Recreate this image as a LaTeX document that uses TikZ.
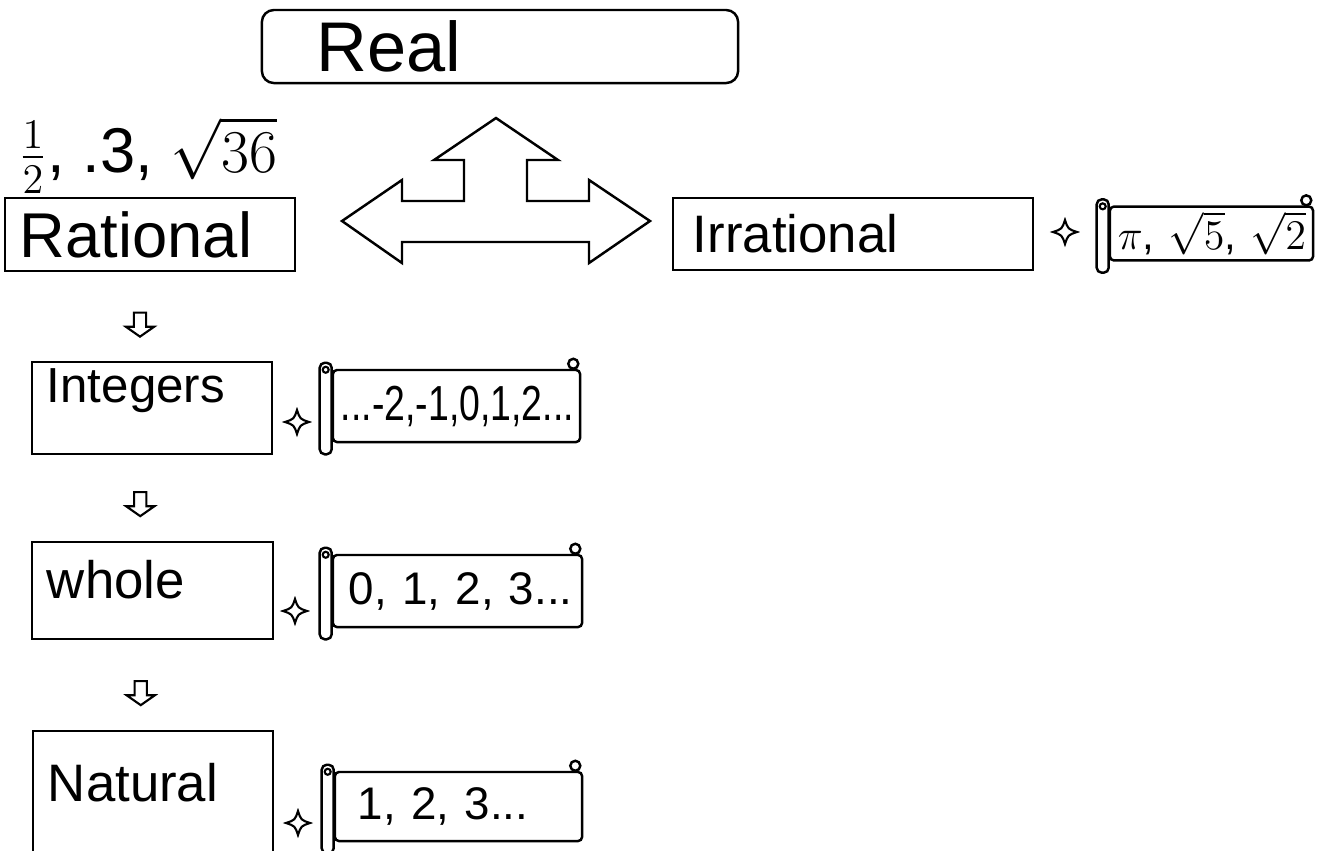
\documentclass[tikz,border=0pt]{standalone}
\usepackage{fontspec}
\setmainfont{Liberation Sans}
\usepackage{amsmath}
\usepackage{graphicx}
\usepackage{tikz}
\usetikzlibrary{shapes.geometric, shapes.arrows, arrows, positioning, calc}

\newcommand{\setfs}[1]{\fontsize{#1}{#1}\selectfont}
% rolled left edge and top curl of a scroll node
\newcommand{\scrollroll}[1]{%
  \draw[line width=0.7pt, fill=white, rounded corners=0.05cm] ([xshift=-0.12cm,yshift=0.06cm]#1.north west) rectangle ([yshift=-0.11cm]#1.south west);
  \draw[line width=0.6pt] ([xshift=-0.06cm,yshift=-0.01cm]#1.north west) circle (0.03cm);
  \draw[line width=0.7pt, fill=white] ([xshift=-0.08cm,yshift=0.05cm]#1.north east) circle (0.05cm);
}

\begin{document}
\begin{tikzpicture}[x=0.01cm, y=-0.01cm,
  catbox/.style={rectangle, draw, line width=0.7pt, inner xsep=0.15cm, inner ysep=0.05cm, align=left, font=\setfs{15}},
  scrollbody/.style={rectangle, draw, line width=0.7pt, rounded corners=0.04cm, inner xsep=0.08cm, inner ysep=0.05cm, align=left, font=\setfs{13}},
  sparkle/.style={circle, minimum size=0.3cm, inner sep=0pt, path picture={
    \coordinate (c) at (path picture bounding box.center);
    \draw[line width=0.6pt] ([yshift=0.12cm]c) .. controls ([xshift=0.03cm,yshift=0.03cm]c) .. ([xshift=0.12cm]c)
      .. controls ([xshift=0.03cm,yshift=-0.03cm]c) .. ([yshift=-0.12cm]c)
      .. controls ([xshift=-0.03cm,yshift=-0.03cm]c) .. ([xshift=-0.12cm]c)
      .. controls ([xshift=-0.03cm,yshift=0.03cm]c) .. cycle;}},
  downarr/.style={single arrow, draw, line width=0.6pt, shape border rotate=270, minimum height=0.24cm, single arrow head extend=0.08cm, single arrow tip angle=110, inner sep=0.05cm}]
\useasboundingbox (0,0) rectangle (1326,850);

% Top level
\node[catbox, rounded corners=0.12cm, minimum width=4.76cm, minimum height=0.73cm, text width=4.46cm, font=\setfs{20}] (real) at (500,46.5) {\hspace*{0.4cm}Real};

% Three way arrow
\draw[line width=0.7pt] (342,221) -- (402,180) -- (402,201) -- (464,201) -- (464,160) -- (434,160) -- (496,118)
  -- (558,160) -- (527,160) -- (527,201) -- (589,201) -- (589,180) -- (650,221) -- (589,263) -- (589,242)
  -- (402,242) -- (402,263) -- cycle;

% Rational / Irrational
\node[font=\setfs{18}, anchor=west] (ratex) at (6,155) {$\frac{1}{2}$, .3, $\sqrt{36}$};
\node[catbox, minimum width=2.9cm, minimum height=0.73cm, text width=2.6cm, font=\setfs{18}] (rational) at (150,234.5) {Rational};
\node[catbox, minimum width=3.6cm, minimum height=0.72cm, text width=3.3cm] (irrational) at (853,234) {\hspace*{0.05cm}Irrational};
\node[sparkle] (s0) at (1065,232) {};
\node[scrollbody, minimum width=2.03cm, minimum height=0.53cm, text width=1.87cm, font=\setfs{12}] (irrscroll) at (1211.5,233.5) {\mbox{$\pi$, $\sqrt{5}$, $\sqrt{2}$}};
\scrollroll{irrscroll}

% Integers
\node[catbox, minimum width=2.4cm, minimum height=0.92cm, text width=2.1cm, text height=0.35cm, text depth=0.47cm, font=\setfs{14}] (integers) at (152,408) {Integers};
\node[downarr] (a1) at ($(rational.south)!0.5!(integers.north)+(-11,6)$) {};
\node[sparkle] (s1) at (297,422) {};
\node[scrollbody, minimum width=2.47cm, minimum height=0.72cm, text width=2.31cm, font=\setfs{14}] (intscroll) at (456.5,406) {\scalebox{0.76}[1]{...-2,-1,0,1,2...}};
\scrollroll{intscroll}

% Whole
\node[catbox, minimum width=2.41cm, minimum height=0.97cm, text width=2.11cm, text height=0.5cm, text depth=0.35cm] (whole) at (152.5,590.5) {whole};
\node[downarr] (a2) at ($(integers.south)!0.5!(whole.north)+(-12,4)$) {};
\node[sparkle] (s2) at (295,611) {};
\node[scrollbody, minimum width=2.49cm, minimum height=0.72cm, text width=2.33cm] (wholescroll) at (457.5,591) {\mbox{\hspace*{0.08cm}0, 1, 2, 3...}};
\scrollroll{wholescroll}

% Natural
\node[catbox, minimum width=2.4cm, minimum height=1.4cm, text width=2.1cm, text height=0.4cm, text depth=0.4cm] (natural) at (153,801) {Natural};
\node[downarr] (a3) at ($(whole.south)!0.5!(natural.north)+(-12,6)$) {};
\node[sparkle] (s3) at (298,823) {};
\node[scrollbody, minimum width=2.47cm, minimum height=0.69cm, text width=2.31cm] (natscroll) at (458.5,806.5) {\mbox{\hspace*{0.15cm}1, 2, 3...}};
\scrollroll{natscroll}
\end{tikzpicture}
\end{document}
